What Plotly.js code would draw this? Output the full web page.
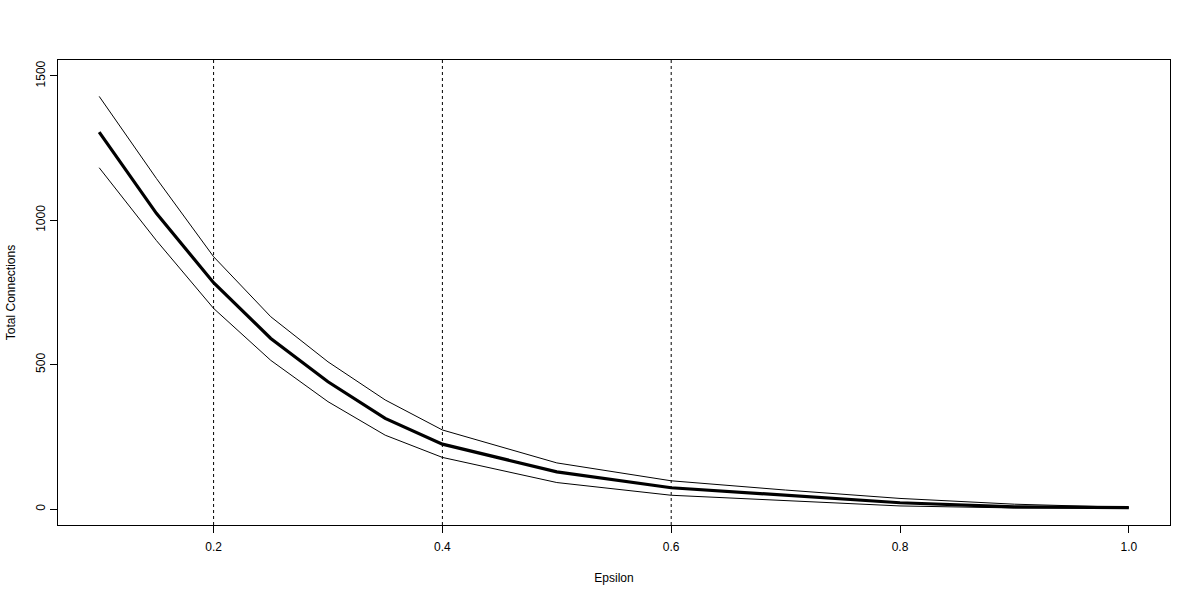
<!DOCTYPE html>
<html>
<head>
<meta charset="utf-8">
<script src="https://cdn.plot.ly/plotly-3.0.1.min.js"></script>
<style>
  body { margin: 0; background: #fff; }
  #plot { width: 1200px; height: 600px; }
</style>
</head>
<body>
<div id="plot"></div>
<script>
// epsilon values and total connections (mean with upper / lower band)
var epsilon = [0.1, 0.15, 0.2, 0.25, 0.3, 0.35, 0.4, 0.5, 0.6, 0.7, 0.8, 0.9, 1.0];
var meanConn = [1305, 1024, 784, 591, 441, 314, 225, 129, 74, 48, 22, 8, 5];
var upperConn = [1429, 1145, 874, 666, 510, 378, 274, 160, 98, 66, 37, 17, 6];
var lowerConn = [1182, 930, 695, 515, 372, 256, 179, 92, 48, 29, 11, 4, 4];
var markLines = [0.2, 0.4, 0.6];

var font = {family: "Liberation Sans, Arial, sans-serif", size: 12, color: "#000"};

var data = [
    {x: epsilon, y: upperConn, mode: "lines", type: "scatter",
     line: {color: "#000", width: 1}},
    {x: epsilon, y: lowerConn, mode: "lines", type: "scatter",
     line: {color: "#000", width: 1}},
    {x: epsilon, y: meanConn, mode: "lines", type: "scatter",
     line: {color: "#000", width: 3.2}}
];

var shapes = [];
for (var i = 0; i < markLines.length; i++) {
    shapes.push({
        type: "line", xref: "x", yref: "paper",
        x0: markLines[i], x1: markLines[i], y0: 0, y1: 1,
        line: {color: "#000", width: 1, dash: "dot"}
    });
}

var layout = {
    width: 1200, height: 600,
    margin: {l: 58, r: 30, t: 60, b: 75},
    paper_bgcolor: "#fff", plot_bgcolor: "#fff",
    showlegend: false,
    font: font,
    shapes: shapes,
    xaxis: {
        range: [0.064, 1.036],
        tickvals: [0.2, 0.4, 0.6, 0.8, 1.0],
        ticktext: ["0.2", "0.4", "0.6", "0.8", "1.0"],
        showgrid: false, zeroline: false,
        showline: true, mirror: true, linecolor: "#000", linewidth: 1,
        ticks: "outside", ticklen: 7, tickcolor: "#000",
        ticklabelstandoff: 4,
        tickfont: font,
        title: {text: "Epsilon", font: font, standoff: 20}
    },
    yaxis: {
        range: [-55, 1555],
        tickvals: [0, 500, 1000, 1500],
        tickangle: -90,
        showgrid: false, zeroline: false,
        showline: true, mirror: true, linecolor: "#000", linewidth: 1,
        ticks: "outside", ticklen: 7, tickcolor: "#000",
        tickfont: font,
        title: {text: "Total Connections", font: font, standoff: 16}
    }
};

Plotly.newPlot("plot", data, layout, {staticPlot: true});
</script>
</body>
</html>
